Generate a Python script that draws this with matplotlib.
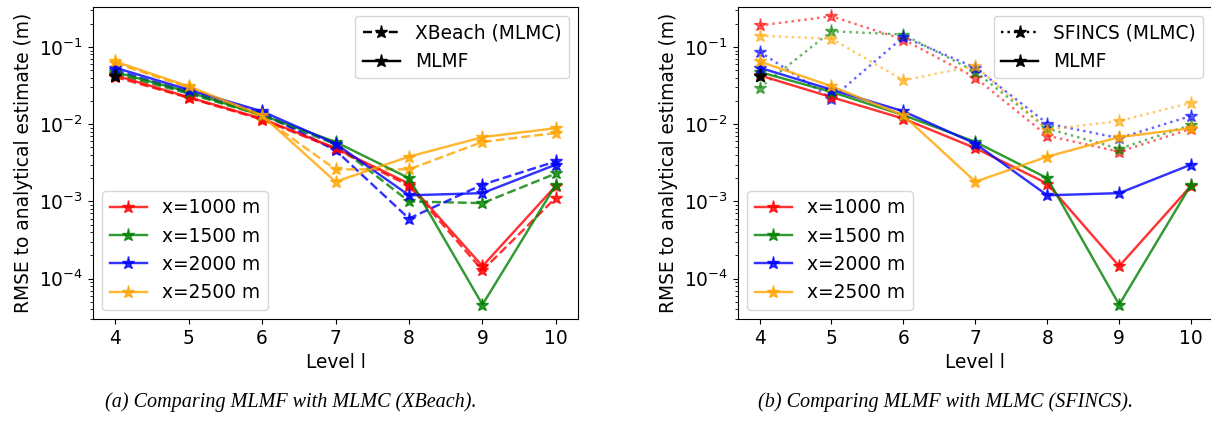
import numpy as np
import matplotlib
matplotlib.use("Agg")
import matplotlib.pyplot as plt

levels = [4, 5, 6, 7, 8, 9, 10]
positions = ["x=1000 m", "x=1500 m", "x=2000 m", "x=2500 m"]
colors = ["red", "green", "blue", "orange"]

# MLMF (same in both panels)
mlmf_1000 = [0.043, 0.0224, 0.0118, 0.0049, 0.0017, 1.45e-4, 1.6e-3]
mlmf_1500 = [0.0475, 0.0262, 0.0131, 0.0059, 0.0020, 4.6e-5, 1.65e-3]
mlmf_2000 = [0.054, 0.028, 0.0147, 0.0056, 1.2e-3, 1.28e-3, 3.0e-3]
mlmf_2500 = [0.065, 0.031, 0.013, 1.8e-3, 3.8e-3, 6.8e-3, 8.9e-3]

# XBeach MLMC
xb_1000 = [0.041, 0.022, 0.0115, 0.0048, 1.6e-3, 1.28e-4, 1.12e-3]
xb_1500 = [0.045, 0.025, 0.013, 0.0055, 1.0e-3, 0.95e-3, 2.3e-3]
xb_2000 = [0.050, 0.026, 0.014, 0.0046, 6.0e-4, 1.65e-3, 3.3e-3]
xb_2500 = [0.062, 0.030, 0.0125, 2.6e-3, 2.6e-3, 5.9e-3, 7.7e-3]

# SFINCS MLMC
sf_1000 = [0.19, 0.25, 0.125, 0.040, 0.0071, 0.0044, 0.0087]
sf_1500 = [0.0295, 0.16, 0.145, 0.048, 0.0088, 0.0048, 0.0098]
sf_2000 = [0.087, 0.0215, 0.135, 0.054, 0.0102, 0.0066, 0.0128]
sf_2500 = [0.14, 0.128, 0.037, 0.057, 0.0085, 0.011, 0.019]

# black marker behind the style legend entries
black_level = 4
black_value = 0.042

mlmf = [mlmf_1000, mlmf_1500, mlmf_2000, mlmf_2500]
xbeach = [xb_1000, xb_1500, xb_2000, xb_2500]
sfincs = [sf_1000, sf_1500, sf_2000, sf_2500]

plt.rcParams["font.size"] = 13.4

fig = plt.figure(figsize=(12.11, 4.28), dpi=100)
ax1 = fig.add_axes([0.0768, 0.2547, 0.4005, 0.729])
ax2 = fig.add_axes([0.6094, 0.2547, 0.392, 0.729])

MS = 9.5
LW = 1.75


def panel(ax, mlmc, ls, alpha_mlmc, mlmc_label):
    for i in range(4):
        ax.plot(levels, mlmc[i], ls, color=colors[i], marker="*", ms=MS, lw=LW, alpha=alpha_mlmc)
    lines = []
    for i in range(4):
        l, = ax.plot(levels, mlmf[i], "-", color=colors[i], marker="*", ms=MS, lw=LW, alpha=0.8,
                     label=positions[i])
        lines.append(l)
    k1, = ax.plot(black_level, black_value, ls, color="black", marker="*", ms=MS, lw=LW, label=mlmc_label)
    k2, = ax.plot(black_level, black_value, "-", color="black", marker="*", ms=MS, lw=LW, label="MLMF")
    ax.set_yscale("log")
    ax.set_ylim(3e-5, 0.33)
    ax.set_xticks(levels)
    ax.set_xlabel("Level l")
    ax.set_ylabel("RMSE to analytical estimate (m)")
    leg1 = ax.legend(handles=[k1, k2], loc="upper right", fontsize=13.4)
    ax.add_artist(leg1)
    ax.legend(handles=lines, loc="lower left", fontsize=13.4)


panel(ax1, xbeach, "--", 0.8, "XBeach (MLMC)")
panel(ax2, sfincs, ":", 0.6, "SFINCS (MLMC)")

fig.text(0.240, 0.05, "(a) Comparing MLMF with MLMC (XBeach).", ha="center",
         family="Liberation Serif", style="italic", fontsize=14.5)
fig.text(0.781, 0.05, "(b) Comparing MLMF with MLMC (SFINCS).", ha="center",
         family="Liberation Serif", style="italic", fontsize=14.5)

fig.savefig("out.png", dpi=100)
